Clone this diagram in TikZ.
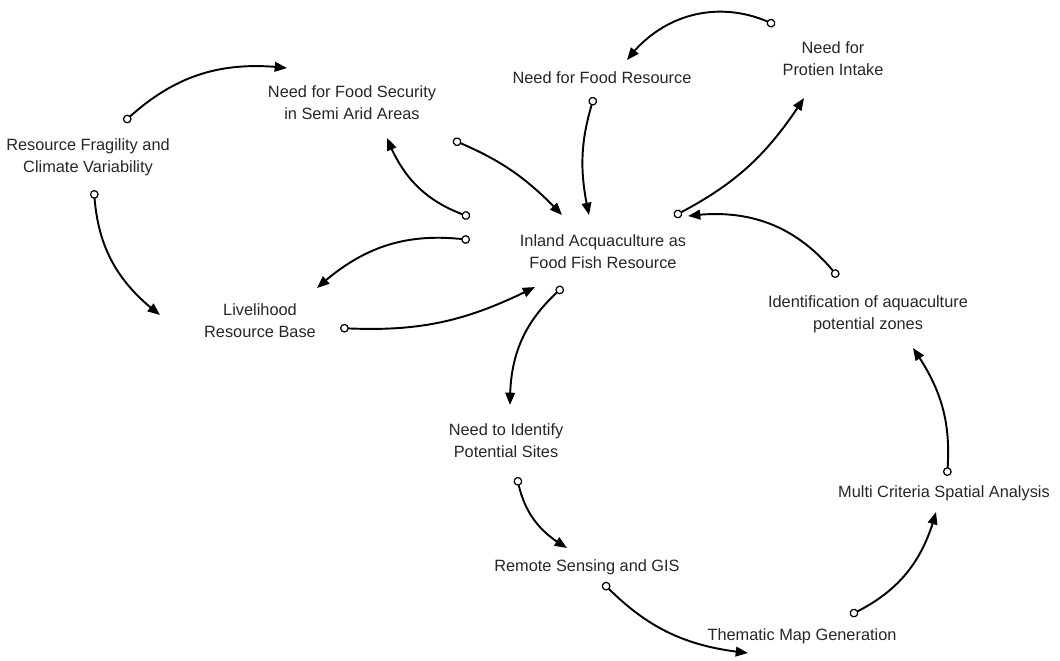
\documentclass[tikz,border=0pt]{standalone}
\usepackage{fontspec}
\setmainfont{Liberation Sans}
\usetikzlibrary{arrows.meta, bending}

\tikzset{
  varbox/.style={align=center, inner sep=1pt, text=black!85,
    font=\fontsize{9.3}{12.5}\selectfont},
  link/.style={line width=1.1pt,
    {Circle[open,length=5pt,line width=0.7pt]}-{Triangle[length=7pt,width=5.5pt]}},
}

\begin{document}
\begin{tikzpicture}[x=0.02cm, y=-0.02cm]
    \useasboundingbox (0,0) rectangle (1060,660);
    % Variables
    \node[varbox] (fragility) at (88,157) {Resource Fragility and\\Climate Variability};
    \node[varbox] (foodsec) at (352,103) {Need for Food Security\\in Semi Arid Areas};
    \node[varbox] (foodres) at (602,78) {Need for Food Resource};
    \node[varbox] (protein) at (833,59) {Need for\\Protien Intake};
    \node[varbox] (inland) at (603,252) {Inland Acquaculture as\\Food Fish Resource};
    \node[varbox] (livelihood) at (260,321) {Livelihood\\Resource Base};
    \node[varbox] (zones) at (868,314) {Identification of aquaculture\\potential zones};
    \node[varbox] (sites) at (506,441) {Need to Identify\\Potential Sites};
    \node[varbox] (rsgis) at (587,567) {Remote Sensing and GIS};
    \node[varbox] (thematic) at (802,636) {Thematic Map Generation};
    \node[varbox] (mcsa) at (944,493) {Multi Criteria Spatial Analysis};
    % Upper part of the loop
    \draw[link] ([shift={(36,-35)}]fragility.center) to[bend left=25] ([shift={(-65,-35)}]foodsec.center);
    \draw[link] ([shift={(6,33)}]fragility.center) to[bend right=25] ([shift={(-100,-6)}]livelihood.center);
    \draw[link] ([shift={(-133,-35)}]inland.center) to[bend left=25] ([shift={(35,35)}]foodsec.center);
    \draw[link] ([shift={(101,37)}]foodsec.center) to[bend left=12] ([shift={(-41,-37)}]inland.center);
    \draw[link] ([shift={(-8,19)}]foodres.center) to[bend right=15] ([shift={(-14,-37)}]inland.center);
    \draw[link] ([shift={(-58,-34)}]protein.center) to[bend right=40] ([shift={(25,-18)}]foodres.center);
    \draw[link] ([shift={(71,-36)}]inland.center) to[bend right=15] ([shift={(-29,39)}]protein.center);
    \draw[link] ([shift={(-30,-37)}]zones.center) to[bend right=30] ([shift={(85,-36)}]inland.center);
    \draw[link] ([shift={(-133,-12)}]inland.center) to[bend right=25] ([shift={(57,-33)}]livelihood.center);
    \draw[link] ([shift={(80,7)}]livelihood.center) to[bend right=15] ([shift={(-68,35)}]inland.center);
    % Lower part of the loop
    \draw[link] ([shift={(-40,35)}]inland.center) to[bend right=25] ([shift={(4,-36)}]sites.center);
    \draw[link] ([shift={(11,36)}]sites.center) to[bend right=25] ([shift={(-20,-19)}]rsgis.center);
    \draw[link] ([shift={(16,16)}]rsgis.center) to[bend right=20] ([shift={(-54,17)}]thematic.center);
    \draw[link] ([shift={(48,-21)}]thematic.center) to[bend right=25] ([shift={(-8,19)}]mcsa.center);
    \draw[link] ([shift={(3,-17)}]mcsa.center) to[bend right=20] ([shift={(45,34)}]zones.center);
\end{tikzpicture}
\end{document}
